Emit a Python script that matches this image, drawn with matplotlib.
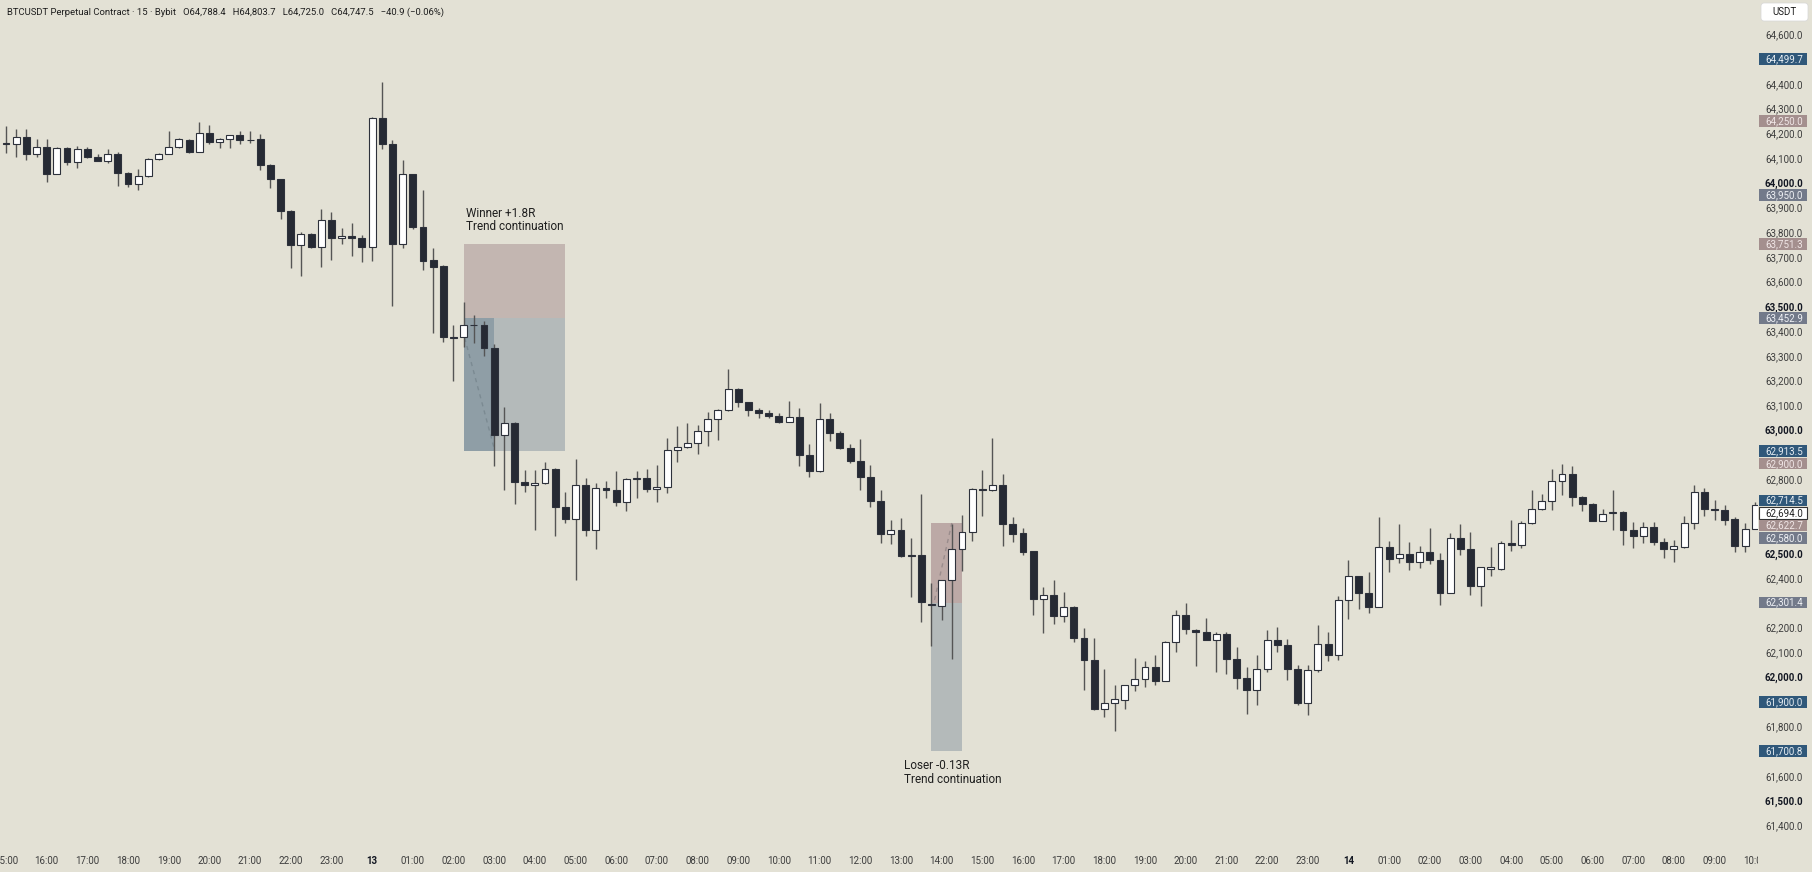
import matplotlib
matplotlib.use("Agg")
import matplotlib.pyplot as plt
from matplotlib.patches import Rectangle, FancyBboxPatch
from matplotlib.transforms import Bbox, TransformedBbox, blended_transform_factory
import numpy as np
import pandas as pd

plt.rcParams['font.family'] = ['Roboto', 'DejaVu Sans']

# 15 minute BTCUSDT bars
opens = [64161, 64155, 64185, 64115, 64144, 64034, 64142, 64085, 64136, 64104,
         64089, 64115, 64039, 63996, 64026, 64096, 64115, 64144, 64174, 64124,
         64201, 64163, 64177, 64192, 64174, 64177, 64073, 64014, 63886, 63747,
         63794, 63738, 63848, 63778, 63786, 63778, 63740, 64263, 64155, 63751,
         64034, 63821, 63687, 63662, 63374, 63374, 63424, 63424, 63332, 62980,
         63029, 62790, 62775, 62784, 62841, 62686, 62639, 62775, 62596, 62763,
         62757, 62710, 62800, 62807, 62760, 62768, 62919, 62930, 62946, 62997,
         63043, 63081, 63167, 63112, 63082, 63070, 63058, 63033, 63054, 62897,
         62834, 63043, 62989, 62928, 62876, 62811, 62713, 62580, 62596, 62492,
         62492, 62297, 62289, 62391, 62518, 62588, 62760, 62755, 62778, 62620,
         62582, 62508, 62317, 62333, 62248, 62283, 62158, 62068, 61869, 61893,
         61909, 61967, 61992, 62039, 61985, 62142, 62249, 62192, 62181, 62148,
         62174, 62074, 61996, 61949, 62033, 62148, 62131, 62033, 61895, 62027,
         62135, 62091, 62310, 62407, 62342, 62283, 62528, 62480, 62497, 62465,
         62504, 62472, 62342, 62562, 62519, 62367, 62438, 62438, 62542, 62535,
         62622, 62679, 62714, 62794, 62821, 62728, 62701, 62632, 62663, 62666,
         62593, 62569, 62609, 62545, 62519, 62526, 62623, 62747, 62679, 62674,
         62639, 62531, 62599]
highs = [64228, 64219, 64219, 64178, 64178, 64144, 64144, 64147, 64144, 64115,
         64138, 64124, 64043, 64057, 64101, 64120, 64209, 64181, 64178, 64244,
         64232, 64182, 64194, 64209, 64209, 64198, 64077, 64016, 63889, 63801,
         63798, 63895, 63880, 63817, 63835, 63788, 64266, 64407, 64174, 64091,
         64037, 63969, 63736, 63666, 63424, 63516, 63464, 63441, 63346, 63094,
         63033, 62838, 62838, 62872, 62845, 62748, 62883, 62804, 62784, 62794,
         62834, 62806, 62834, 62842, 62858, 62966, 63016, 63029, 63020, 63074,
         63083, 63246, 63171, 63114, 63087, 63081, 63070, 63117, 63087, 62943,
         63110, 63067, 62997, 62942, 62962, 62858, 62757, 62636, 62642, 62562,
         62740, 62380, 62394, 62620, 62655, 62764, 62838, 62966, 62822, 62647,
         62602, 62511, 62364, 62391, 62343, 62286, 62198, 62158, 62033, 61969,
         61969, 62077, 62064, 62091, 62144, 62272, 62299, 62194, 62239, 62181,
         62182, 62121, 62041, 62091, 62192, 62201, 62155, 62047, 62047, 62212,
         62182, 62326, 62472, 62410, 62425, 62649, 62552, 62618, 62546, 62531,
         62602, 62501, 62582, 62618, 62585, 62447, 62526, 62552, 62636, 62633,
         62757, 62741, 62841, 62861, 62855, 62733, 62706, 62679, 62755, 62673,
         62626, 62626, 62626, 62562, 62556, 62650, 62778, 62764, 62717, 62697,
         62647, 62623, 62710]
lows = [64120, 64104, 64090, 64104, 64003, 64034, 64070, 64060, 64100, 64088,
        64080, 63985, 63983, 63972, 64023, 64093, 64115, 64142, 64120, 64124,
        64158, 64142, 64142, 64155, 64161, 64053, 63980, 63854, 63653, 63622,
        63734, 63660, 63689, 63750, 63703, 63680, 63684, 64138, 63501, 63734,
        63814, 63646, 63390, 63357, 63198, 63334, 63350, 63299, 62854, 62755,
        62699, 62748, 62596, 62782, 62571, 62623, 62394, 62571, 62518, 62724,
        62690, 62670, 62724, 62748, 62710, 62744, 62869, 62926, 62901, 62935,
        62957, 63078, 63094, 63058, 63050, 63050, 63029, 63031, 62854, 62809,
        62831, 62955, 62922, 62865, 62757, 62686, 62542, 62539, 62484, 62324,
        62221, 62124, 62232, 62073, 62427, 62549, 62650, 62751, 62532, 62546,
        62495, 62250, 62178, 62216, 62221, 62142, 61947, 61866, 61839, 61781,
        61871, 61942, 61960, 61967, 61983, 62100, 62175, 62046, 62148, 62020,
        62012, 61952, 61851, 61886, 62020, 62100, 61987, 61886, 61845, 62020,
        62064, 62070, 62235, 62276, 62259, 62282, 62425, 62461, 62434, 62441,
        62458, 62290, 62340, 62495, 62333, 62289, 62410, 62434, 62511, 62521,
        62620, 62674, 62676, 62737, 62690, 62673, 62630, 62630, 62593, 62535,
        62522, 62542, 62535, 62481, 62464, 62523, 62599, 62650, 62636, 62616,
        62504, 62504, 62599]
closes = [64155, 64185, 64115, 64144, 64034, 64142, 64085, 64138, 64104, 64089,
          64115, 64039, 63996, 64026, 64096, 64115, 64144, 64177, 64124, 64201,
          64163, 64177, 64192, 64171, 64171, 64070, 64014, 63886, 63747, 63794,
          63738, 63848, 63778, 63786, 63778, 63740, 64263, 64155, 63751, 64034,
          63821, 63684, 63660, 63374, 63372, 63424, 63423, 63332, 62980, 63029,
          62790, 62775, 62784, 62841, 62686, 62639, 62775, 62596, 62763, 62757,
          62710, 62803, 62807, 62760, 62768, 62919, 62930, 62946, 62996, 63043,
          63081, 63167, 63112, 63081, 63070, 63058, 63033, 63054, 62897, 62834,
          63043, 62989, 62926, 62876, 62811, 62713, 62580, 62596, 62488, 62491,
          62302, 62290, 62391, 62518, 62588, 62760, 62755, 62778, 62620, 62580,
          62506, 62317, 62333, 62248, 62283, 62158, 62068, 61869, 61893, 61912,
          61967, 61992, 62039, 61985, 62142, 62249, 62194, 62182, 62148, 62174,
          62074, 61996, 61949, 62033, 62148, 62131, 62033, 61895, 62027, 62135,
          62091, 62310, 62407, 62342, 62283, 62528, 62477, 62497, 62465, 62504,
          62472, 62342, 62562, 62519, 62367, 62445, 62445, 62542, 62535, 62622,
          62679, 62714, 62794, 62821, 62728, 62701, 62632, 62661, 62669, 62593,
          62569, 62609, 62545, 62519, 62529, 62623, 62747, 62679, 62674, 62636,
          62531, 62599, 62694]
first_bar_time = '2024-08-12 15:00'

# price tags on the right scale
tag_prices = [64499.7, 64250.0, 63950.0, 63751.3, 63452.9, 62913.5, 62900.0,
              62714.5, 62694.0, 62622.7, 62580.0, 62301.4, 61900.0, 61700.8]
tag_kinds = ['blue', 'pink', 'slate', 'pink', 'slate', 'blue', 'pink',
             'blue', 'last', 'pink', 'slate', 'slate', 'blue', 'blue']

# position tools (bar index / price)
win_bars = (45, 55, 48)
win_prices = (63751.3, 63452.9, 62913.5)
win_path = ([45.1, 48.0], [63372, 62925])
win_text = 'Winner +1.8R\nTrend continuation'
lose_bars = (91, 94)
lose_prices = (62622.7, 62301.4, 61700.8)
lose_path = ([91.3, 93.0], [62312, 62623])
lose_text = 'Loser -0.13R\nTrend continuation'

title = ('BTCUSDT Perpetual Contract \u00b7 15 \u00b7 Bybit   O64,788.4   H64,803.7   '
         'L64,725.0   C64,747.5   \u221240.9 (\u22120.06%)')

BG = '#e3e1d5'
BULL = '#ffffff'
BEAR = '#262a34'
EDGE = '#2d313b'
WICK = '#555555'
TAG_COLORS = {'blue': ('#30587a', '#e6edf3'), 'pink': ('#a48f8e', '#f0e6e6'),
              'slate': ('#737a8a', '#eef0f4'), 'last': ('#ffffff', '#222222')}

W, H, DPI = 1812, 872, 100
AX_RIGHT = 1758      # px where price scale starts
AX_BOTTOM = 26       # px height of time scale
BAR0_X, BAR_W = 6.0, 10.17   # px of first bar centre, px per bar
P_TOP, P_PER_PX = 64739.0, 4.0455

fig = plt.figure(figsize=(W / DPI, H / DPI), dpi=DPI, facecolor=BG)
ax = fig.add_axes([0, AX_BOTTOM / H, AX_RIGHT / W, 1 - AX_BOTTOM / H])
ax.set_facecolor(BG)
for s in ax.spines.values():
    s.set_visible(False)

n = len(opens)
x = np.arange(n)
o, h, l, c = map(np.array, (opens, highs, lows, closes))
bull = c >= o

ax.set_xlim(-BAR0_X / BAR_W, (AX_RIGHT - BAR0_X) / BAR_W)
ax.set_ylim(P_TOP - P_PER_PX * (H - AX_BOTTOM), P_TOP)

# position boxes
def box(x0, x1, y0, y1, color, z=1):
    ax.add_patch(Rectangle((x0, y0), x1 - x0, y1 - y0, facecolor=color,
                           edgecolor='none', zorder=z))

s0, s1, sf = win_bars
stop, entry, target = win_prices
box(s0, s1, entry, stop, '#c3b6b1')
box(s0, s1, target, entry, '#b4baba')
box(s0, sf, target, entry, '#8f9ea6', 1.5)
ax.plot(win_path[0], win_path[1], ls=(0, (3, 3)), color='#7b8a92', lw=1, zorder=1.8)
ax.annotate(win_text, xy=((s0 + s1) / 2, stop), xytext=(0, 8), textcoords='offset points',
            ha='center', va='bottom', multialignment='left', fontsize=8.5,
            color='#1f1f1f', linespacing=1.05)

l0, l1 = lose_bars
top, entry2, bottom = lose_prices
box(l0, l1, entry2, top, '#bca9a6')
box(l0, l1, bottom, entry2, '#b4baba')
ax.plot(lose_path[0], lose_path[1], ls=(0, (3, 3)), color='#9a8c8c', lw=1, zorder=1.8)
ax.annotate(lose_text, xy=((l0 + l1) / 2, bottom), xytext=(4, -6), textcoords='offset points',
            ha='center', va='top', multialignment='left', fontsize=8.5,
            color='#1f1f1f', linespacing=1.05)

# candles
ax.vlines(x, l, h, colors=WICK, lw=1, zorder=2)
body_lo = np.minimum(o, c)
body_h = np.maximum(np.abs(c - o), 2)
ax.bar(x, body_h, bottom=body_lo, width=0.68,
       color=np.where(bull, BULL, BEAR), edgecolor=EDGE, lw=0.8, zorder=3)

# price tags, stacked so they do not overlap
tag_h = 11.5 * P_PER_PX
gap = 12.5 * P_PER_PX
order = np.argsort(tag_prices)[::-1]
shown = {}
prev = None
for k in order:
    y = tag_prices[k]
    if prev is not None and prev - y < gap:
        y = prev - gap
    shown[k] = y
    prev = y

blend = blended_transform_factory(ax.transAxes, ax.transData)
for k, y in shown.items():
    fc, tc = TAG_COLORS[tag_kinds[k]]
    ax.add_patch(Rectangle((1759 / AX_RIGHT, y - tag_h / 2), 48 / AX_RIGHT, tag_h,
                           transform=blend, facecolor=fc,
                           edgecolor='#333333' if tag_kinds[k] == 'last' else 'none',
                           lw=0.8, clip_on=False, zorder=5))
    ax.text(1765 / AX_RIGHT, y, f'{tag_prices[k]:,.1f}', transform=blend, ha='left',
            va='center', fontsize=7, color=tc, zorder=6, clip_on=False)

# price scale
ticks = [p for p in range(61400, 64700, 100)
         if all(abs(p - y) > 35 for y in shown.values())]
ax.yaxis.tick_right()
ax.set_yticks(ticks)
ax.set_yticklabels([f'{p:,.1f}' for p in ticks])
ax.tick_params(axis='y', length=0, pad=5, labelsize=7, labelcolor='#3d3d3d')
for p, lab in zip(ticks, ax.get_yticklabels()):
    if p % 500 == 0:
        lab.set_fontweight('bold')
        lab.set_color('#131722')

# time scale
times = pd.date_range(first_bar_time, periods=n, freq='15min')
hour_idx = [i for i, t in enumerate(times) if t.minute == 0]
hour_lab = [str(times[i].day) if times[i].hour == 0 else times[i].strftime('%H:%M')
            for i in hour_idx]
ax.set_xticks(hour_idx)
ax.set_xticklabels(hour_lab)
ax.tick_params(axis='x', length=0, pad=7, labelsize=7, labelcolor='#3d3d3d')
clip = TransformedBbox(Bbox([[0, 0], [AX_RIGHT / W, 1]]), fig.transFigure)
for t, lab in zip(hour_lab, ax.get_xticklabels()):
    lab.set_clip_on(True)
    lab.set_clip_box(clip)
    if ':' not in t:
        lab.set_fontweight('bold')
        lab.set_color('#131722')

# header and currency button
fig.text(7 / W, 1 - 12 / H, title, ha='left', va='center', fontsize=6.8, color='#1e1e1e')
fig.add_artist(FancyBboxPatch((1761 / DPI, (H - 21) / DPI), 47 / DPI, 18 / DPI,
                              boxstyle='round,pad=0,rounding_size=0.03',
                              transform=fig.dpi_scale_trans, facecolor='white',
                              edgecolor='#d6d6d6', lw=0.5))
fig.text(1784.5 / W, 1 - 12 / H, 'USDT', ha='center', va='center', fontsize=7, color='#1e1e1e')

fig.savefig('out.png', dpi=DPI, facecolor=BG)
